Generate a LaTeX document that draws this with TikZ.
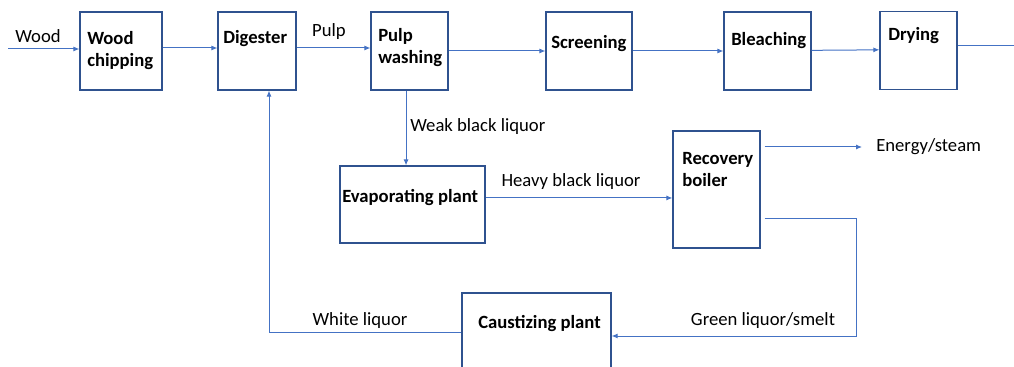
\documentclass[tikz,border=0pt]{standalone}
\usepackage{fontspec}
\setmainfont{Carlito}
\usetikzlibrary{arrows.meta}
\definecolor{flowblue}{RGB}{68,114,196}
\definecolor{boxblue}{RGB}{47,82,143}
\tikzset{
  procbox/.style={draw=boxblue, line width=0.9pt, inner sep=0pt},
  boxtext/.style={anchor=west, inner sep=0pt, align=left, font=\fontsize{14}{16.5}\selectfont\bfseries},
  flowtext/.style={inner sep=0pt, font=\fontsize{14}{16.5}\selectfont},
  flow/.style={draw=flowblue, line width=0.75pt, -{Latex[length=4.5pt,width=3.8pt]}},
  flowline/.style={draw=flowblue, line width=0.75pt}
}
\begin{document}
\begin{tikzpicture}[x=0.75pt,y=0.75pt,yscale=-1,xscale=1]
\clip (0,0) rectangle (1014,367);
                %Shape: Rectangle [id:wood chipping]
                \node [procbox, minimum width=61.5pt, minimum height=58.5pt] (wch) at (121,51) {};
                %Shape: Rectangle [id:digester]
                \node [procbox, minimum width=58.5pt, minimum height=58.5pt] (dig) at (257,51) {};
                %Shape: Rectangle [id:pulp washing]
                \node [procbox, minimum width=57.75pt, minimum height=58.5pt] (pw) at (409.5,51) {};
                %Shape: Rectangle [id:screening]
                \node [procbox, minimum width=64.5pt, minimum height=58.5pt] (scr) at (589,51) {};
                %Shape: Rectangle [id:bleaching]
                \node [procbox, minimum width=65.25pt, minimum height=58.5pt] (ble) at (767.5,51) {};
                %Shape: Rectangle [id:drying]
                \node [procbox, minimum width=57.75pt, minimum height=58.5pt] (dry) at (918.5,50.5) {};
                %Shape: Rectangle [id:evaporating plant]
                \node [procbox, minimum width=108.75pt, minimum height=57.75pt] (evap) at (412.5,204.5) {};
                %Shape: Rectangle [id:recovery boiler]
                \node [procbox, minimum width=65.25pt, minimum height=87.75pt] (rb) at (716.5,189.5) {};
                %Shape: Rectangle [id:caustizing plant]
                \node [procbox, minimum width=111.75pt, minimum height=80.25pt] (cau) at (536.5,346.5) {};

                % Text Node
                \node [boxtext] (wchtxt) at (87,51) {Wood\\chipping};
                % Text Node
                \node [boxtext] (digtxt) at (223,39) {Digester};
                % Text Node
                \node [boxtext] (pwtxt) at (378,47.5) {Pulp\\washing};
                % Text Node
                \node [boxtext] (scrtxt) at (551,44) {Screening};
                % Text Node
                \node [boxtext] (bletxt) at (731,41) {Bleaching};
                % Text Node
                \node [boxtext] (drytxt) at (888,36) {Drying};
                % Text Node
                \node [boxtext] (evaptxt) at (342,198) {Evaporating plant};
                % Text Node
                \node [boxtext] (rbtxt) at (682,170) {Recovery\\boiler};
                % Text Node
                \node [boxtext] (cautxt) at (478,324) {Caustizing plant};

                % Text Node
                \node [flowtext] (wood) at (38,36) {Wood};
                % Text Node
                \node [flowtext] (pulp) at (329,32) {Pulp};
                % Text Node
                \node [flowtext, anchor=west] (wbl) at (410,127) {Weak black liquor};
                % Text Node
                \node [flowtext] (hbl) at (571,182) {Heavy black liquor};
                % Text Node
                \node [flowtext, anchor=west] (energy) at (876,147) {Energy/steam};
                % Text Node
                \node [flowtext] (green) at (763,321) {Green liquor/smelt};
                % Text Node
                \node [flowtext] (white) at (360,321) {White liquor};

                \coordinate (win) at (8,49);
                \coordinate (dout) at (1014,46);
                \coordinate (hbin) at ([yshift=-4.9pt]evap.east);
                \coordinate (gbend) at (856,336);
                \coordinate (wbend) at (269,332);

                %Straight Lines [id:main line]
                \draw [flow] (win) -- (win -| wch.west);
                \draw [flow] ([yshift=-2.25pt]wch.east) -- ([yshift=-2.25pt]dig.west);
                \draw [flow] ([yshift=-2.25pt]dig.east) -- ([yshift=-2.25pt]pw.west);
                \draw [flow] (pw.east) -- (scr.west);
                \draw [flow] (scr.east) -- (ble.west);
                \draw [flow] ([yshift=-0.5pt]ble.east) -- ([yshift=-0.5pt]dry.west);
                \draw [flowline] (dry.east |- dout) -- (dout);
                %Straight Lines [id:liquor loop]
                \draw [flow] ([xshift=-2.6pt]pw.south) -- ([xshift=-2.6pt]pw.south |- evap.north);
                \draw [flow] (hbin) -- (rb.west |- hbin);
                \draw [flow] ([xshift=3pt]rb.east |- energy.west) -- ([xshift=-10.5pt]energy.west);
                \draw [flow] ([shift={(3pt,22.1pt)}]rb.east) -| (gbend) -- (cau.east |- gbend);
                \draw [flow] (cau.west |- wbend) -- (wbend) -- (wbend |- dig.south);
\end{tikzpicture}
\end{document}
